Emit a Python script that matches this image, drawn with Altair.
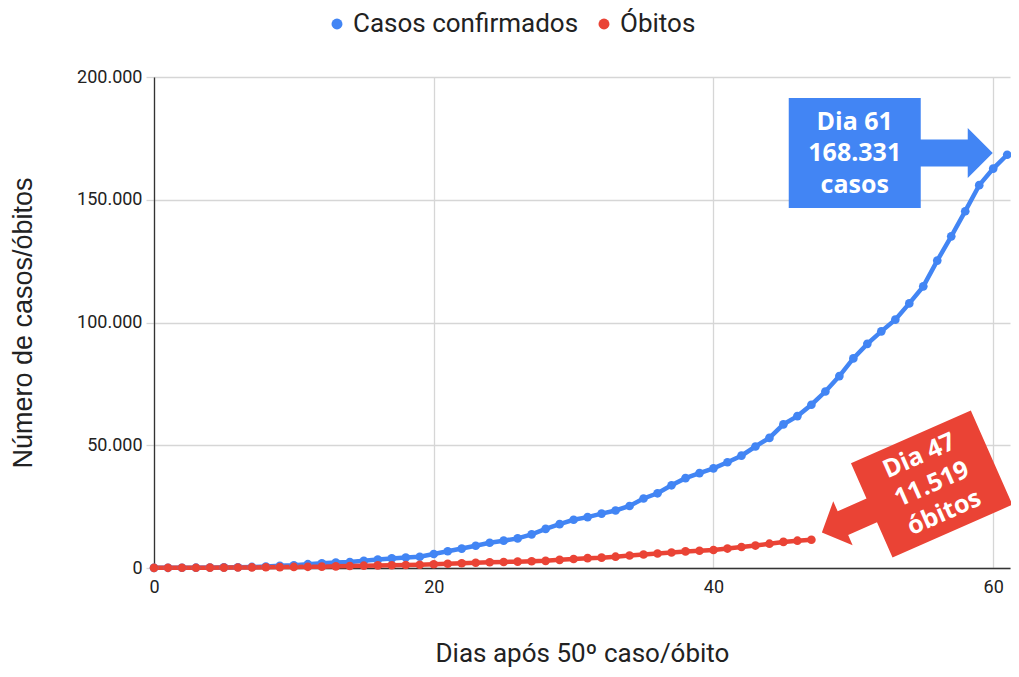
import altair as alt
import pandas as pd

# ---- data (Brasil, dias após 50º caso / 50º óbito) ----
cases = [52, 77, 98, 121, 200, 234, 291, 428, 621, 904, 1128, 1546, 1891, 2201, 2433,
         2915, 3417, 3904, 4256, 4579, 5717, 6836, 7910, 9056, 10278, 11130, 12056,
         13717, 15927, 17857, 19638, 20727, 22169, 23430, 25262, 28320, 30425, 33682,
         36599, 38654, 40581, 43079, 45757, 49492, 52995, 58509, 61888, 66501, 71886,
         78162, 85380, 91299, 96396, 101147, 107780, 114715, 125218, 135106, 145328,
         155939, 162699, 168331]
deaths = [59, 77, 92, 111, 136, 159, 201, 240, 299, 359, 431, 486, 553, 667, 800, 941,
          1056, 1124, 1223, 1328, 1532, 1736, 1924, 2141, 2354, 2462, 2587, 2741, 2906,
          3313, 3670, 4016, 4205, 4603, 5083, 5513, 5901, 6329, 6750, 7025, 7321, 7921,
          8536, 9146, 9897, 10627, 11123, 11519]
series_names = ["Casos confirmados", "Óbitos"]
series_colors = ["#4285F4", "#EA4335"]
x_ticks = [0, 20, 40, 60]
y_ticks = [0, 50000, 100000, 150000, 200000]

# annotations (anchor in data units)
ann_blue_pos = (50.1, 169000)
ann_blue_text = "Dia 61\n168.331\ncasos"
ann_red_pos = (55.6, 34200)
ann_red_text = "Dia 47\n11.519\nóbitos"

rows = [{"dia": i, "valor": v, "serie": series_names[0]} for i, v in enumerate(cases)]
rows += [{"dia": i, "valor": v, "serie": series_names[1]} for i, v in enumerate(deaths)]
df = pd.DataFrame(rows)

FONT = "Roboto"
color = alt.Color("serie:N",
                  scale=alt.Scale(domain=series_names, range=series_colors),
                  legend=alt.Legend(title=None, orient="none", legendX=170, legendY=-66,
                                    direction="horizontal", symbolType="circle",
                                    symbolSize=120, symbolStrokeWidth=0,
                                    labelFontSize=26, labelFont=FONT, labelColor="#222",
                                    labelLimit=0, labelOffset=3, columnPadding=12))

x = alt.X("dia:Q", scale=alt.Scale(domain=[0, 61.2], nice=False),
          axis=alt.Axis(values=x_ticks, title="Dias após 50º caso/óbito", format="d",
                        labelPadding=10, titlePadding=44, labelFlush=False,
                        ticks=False, titleFontSize=26))
y = alt.Y("valor:Q", scale=alt.Scale(domain=[0, 200000], nice=False),
          axis=alt.Axis(values=y_ticks, title="Número de casos/óbitos",
                        labelExpr="replace(format(datum.value, ','), /,/g, '.')",
                        ticks=True, tickSize=8, tickColor="#d6d6d6", tickWidth=1.3,
                        labelPadding=4, titlePadding=39,
                        titleFont="Liberation Sans", titleFontSize=27))

data_layer = alt.Chart(df).mark_line(
    strokeWidth=4.5,
    point=alt.OverlayMarkDef(filled=True, size=75, opacity=1),
).encode(x=x, y=y, color=color, order="dia:Q")

blue_path = ("M-66,-55 L66,-55 L66,-13.5 L113,-13.5 L113,-25 L138,0 L113,25 "
             "L113,13.5 L66,13.5 L66,55 L-66,55 Z")
red_path = ("M-65.5,-51.5 L65.5,-51.5 L65.5,51.5 L-65.5,51.5 L-65.5,13 L-97,13 "
            "L-97,24 L-120,0 L-97,-24 L-97,-13 L-65.5,-13 Z")

ann_df_blue = pd.DataFrame([{"dia": ann_blue_pos[0], "valor": ann_blue_pos[1], "t": ann_blue_text}])
ann_df_red = pd.DataFrame([{"dia": ann_red_pos[0], "valor": ann_red_pos[1], "t": ann_red_text}])

blue_shape = alt.Chart(ann_df_blue).mark_point(
    shape=blue_path, size=4, filled=True, fill=series_colors[0], strokeWidth=0, opacity=1
).encode(x="dia:Q", y="valor:Q")
blue_text = alt.Chart(ann_df_blue).mark_text(
    lineBreak="\n", font="Open Sans", fontWeight="bold", fontSize=25, color="white",
    align="center", baseline="middle", lineHeight=31.5, dy=-31.5
).encode(x="dia:Q", y="valor:Q", text="t:N")

red_shape = alt.Chart(ann_df_red).mark_point(
    shape=red_path, size=4, filled=True, fill=series_colors[1], strokeWidth=0, opacity=1,
    angle=336.2
).encode(x="dia:Q", y="valor:Q")
red_text = alt.Chart(ann_df_red).mark_text(
    lineBreak="\n", font="Open Sans", fontWeight="bold", fontSize=25, color="white",
    align="center", baseline="middle", lineHeight=31, dy=-31, angle=336.2
).encode(x="dia:Q", y="valor:Q", text="t:N")

chart = alt.layer(data_layer, blue_shape, blue_text, red_shape, red_text).properties(
    width=856, height=491,
    padding={"left": 146, "top": 69, "right": 1, "bottom": 101},
    autosize=alt.AutoSizeParams(type="none"),
).configure_view(stroke=None).configure_axis(
    labelFont=FONT, labelFontSize=18, labelColor="#222",
    titleFont=FONT, titleFontSize=26, titleColor="#222", titleFontWeight="normal",
    gridColor="#d6d6d6", gridWidth=1.3, domainColor="#333", domainWidth=1.3,
)

chart.save("out.html", embed_options={"renderer": "svg", "actions": False})
